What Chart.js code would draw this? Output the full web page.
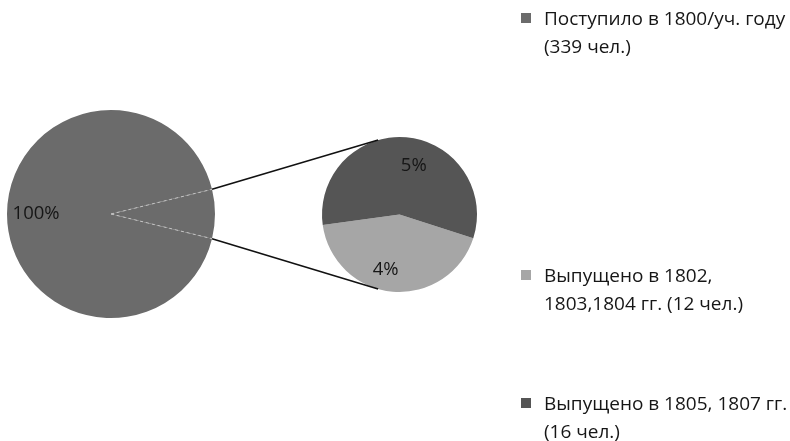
<!DOCTYPE html>
<html>
<head>
<meta charset="utf-8">
<script src="https://cdn.jsdelivr.net/npm/chart.js@4/dist/chart.umd.min.js"></script>
<style>
  body { margin: 0; background: #fff; }
  #wrap { position: relative; width: 790px; height: 441px; overflow: hidden; }
  #wrap canvas { position: absolute; left: 0; top: 0; }
  .leg { position: absolute; left: 521px; font-family: "Open Sans", sans-serif; font-size: 19px; color: #161616; line-height: 28px; white-space: nowrap; }
  .leg .box { display: inline-block; width: 10px; height: 10px; margin-right: 13px; vertical-align: top; margin-top: 9px; }
  .leg .txt { display: inline-block; vertical-align: top; }
</style>
</head>
<body>
<div id="wrap">
  <canvas id="mainPie" width="790" height="441"></canvas>
  <canvas id="subPie" width="790" height="441"></canvas>
  <div id="legend"></div>
</div>
<script>
const enrolledLabel = ['Поступило в 1800/уч. году', '(339 чел.)'];
const enrolled = 339;
const gradLabels = [
    ['Выпущено в 1802,', '1803,1804 гг.  (12 чел.)'],
    ['Выпущено в 1805, 1807 гг.', '(16 чел.)']
];
const graduated = [12, 16];

const mainColor = '#6b6b6b';
const subColors = ['#a6a6a6', '#555555'];

const otherTotal = graduated.reduce((a, b) => a + b, 0);
const otherAngle = otherTotal / (enrolled + otherTotal) * 360;
const lightAngle = graduated[0] / otherTotal * 360;

const pct = v => Math.round(v / enrolled * 100) + '%';

// label placement: angle shift (deg) from slice middle, radius fraction
const labelPlugin = {
    id: 'sliceLabels',
    afterDatasetsDraw(chart, args, opts) {
        const ctx = chart.ctx;
        const arcs = chart.getDatasetMeta(0).data;
        ctx.save();
        ctx.font = '18.5px "Open Sans", sans-serif';
        ctx.fillStyle = '#161616';
        ctx.textAlign = 'center';
        ctx.textBaseline = 'middle';
        opts.items.forEach(it => {
            const p = arcs[it.index].getProps(['x', 'y', 'startAngle', 'endAngle', 'outerRadius']);
            const mid = (p.startAngle + p.endAngle) / 2 + it.shift * Math.PI / 180;
            const r = p.outerRadius * it.frac;
            ctx.fillText(it.text, p.x + Math.cos(mid) * r, p.y + Math.sin(mid) * r);
        });
        ctx.restore();
    }
};

const mainChart = new Chart(document.getElementById('mainPie'), {
    type: 'pie',
    data: {
        labels: [enrolledLabel.join(' '), 'Выпущено'],
        datasets: [{
            data: [enrolled, otherTotal],
            backgroundColor: [mainColor, mainColor],
            borderWidth: 0
        }]
    },
    options: {
        responsive: false,
        animation: false,
        rotation: 90 + otherAngle / 2,
        layout: { padding: { left: 7, right: 575, top: 110, bottom: 123 } },
        plugins: {
            legend: { display: false },
            tooltip: { enabled: false },
            sliceLabels: { items: [{ index: 0, text: pct(enrolled), shift: 0, frac: 0.72 }] }
        }
    },
    plugins: [labelPlugin]
});

// dashed split lines on main pie and connectors to the secondary pie
const connectorPlugin = {
    id: 'connectors',
    afterDatasetsDraw(chart) {
        const ctx = chart.ctx;
        const other = mainChart.getDatasetMeta(0).data[1].getProps(['x', 'y', 'startAngle', 'endAngle', 'outerRadius']);
        const sub = chart.getDatasetMeta(0).data[0].getProps(['x', 'y', 'outerRadius']);
        const ends = [other.startAngle, other.endAngle];
        const subAng = [-106, 106].map(d => d * Math.PI / 180);
        ctx.save();
        ends.forEach((ang, i) => {
            const ex = other.x + Math.cos(ang) * other.outerRadius;
            const ey = other.y + Math.sin(ang) * other.outerRadius;
            ctx.setLineDash([3, 3]);
            ctx.strokeStyle = '#c4c4c4';
            ctx.lineWidth = 1;
            ctx.beginPath();
            ctx.moveTo(other.x, other.y);
            ctx.lineTo(ex, ey);
            ctx.stroke();
            ctx.setLineDash([]);
            ctx.strokeStyle = '#111';
            ctx.lineWidth = 1.6;
            ctx.beginPath();
            ctx.moveTo(ex, ey);
            ctx.lineTo(sub.x + Math.cos(subAng[i]) * sub.outerRadius, sub.y + Math.sin(subAng[i]) * sub.outerRadius);
            ctx.stroke();
        });
        ctx.restore();
    }
};

new Chart(document.getElementById('subPie'), {
    type: 'pie',
    data: {
        labels: gradLabels.map(l => l.join(' ')),
        datasets: [{
            data: graduated,
            backgroundColor: subColors,
            borderWidth: 0
        }]
    },
    options: {
        responsive: false,
        animation: false,
        rotation: 185 - lightAngle / 2,
        layout: { padding: { left: 322, right: 313, top: 137, bottom: 149 } },
        plugins: {
            legend: { display: false },
            tooltip: { enabled: false },
            sliceLabels: {
                items: [
                    { index: 0, text: pct(graduated[0]), shift: 9, frac: 0.74 },
                    { index: 1, text: pct(graduated[1]), shift: 11.5, frac: 0.65 }
                ]
            }
        }
    },
    plugins: [connectorPlugin, labelPlugin]
});

// legend
const legendItems = [
    { lines: enrolledLabel, color: mainColor, top: 4 },
    { lines: gradLabels[0], color: subColors[0], top: 261 },
    { lines: gradLabels[1], color: subColors[1], top: 389 }
];
const legend = document.getElementById('legend');
legendItems.forEach(it => {
    const d = document.createElement('div');
    d.className = 'leg';
    d.style.top = it.top + 'px';
    d.innerHTML = `<span class="box" style="background:${it.color}"></span><span class="txt">${it.lines.join('<br>')}</span>`;
    legend.appendChild(d);
});
</script>
</body>
</html>
